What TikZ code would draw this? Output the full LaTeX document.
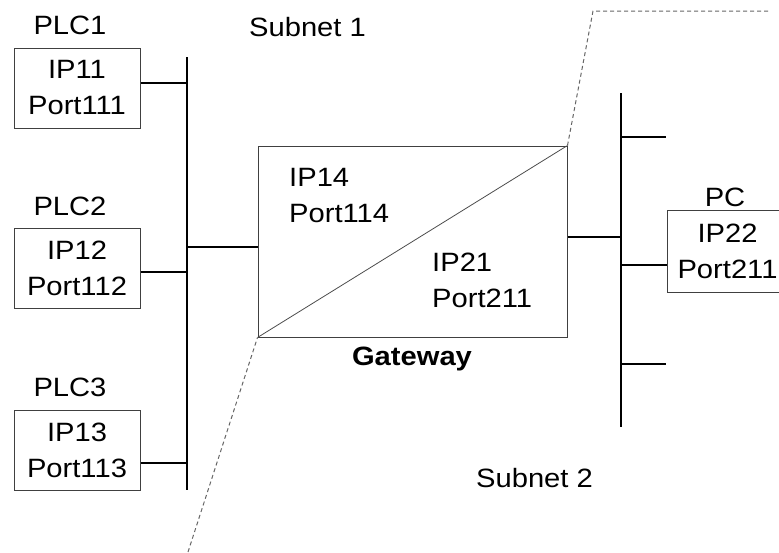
\documentclass[tikz,border=0pt]{standalone}
\usepackage{fontspec}
\setmainfont[FakeStretch=1.1]{Liberation Sans}
\begin{document}
\begin{tikzpicture}[x=1pt,y=-1pt,
  every node/.style={font=\fontsize{26.5}{36}\selectfont, inner sep=0pt},
  devbox/.style={draw=black!75, line width=1pt, minimum width=126pt, minimum height=80pt, align=center},
  txt/.style={align=left},
  bus/.style={line width=2pt},
  stub/.style={line width=2pt},
  thinline/.style={draw=black!75, line width=1pt},
  boundary/.style={draw=black!60, line width=1pt, dash pattern=on 4pt off 3pt}]
\useasboundingbox (0,0) rectangle (779,552);

% labels
\node (l1) at (70,25.5) {PLC1};
\node (l2) at (70,206) {PLC2};
\node (l3) at (70,387.5) {PLC3};
\node (lpc) at (725,197.5) {PC};
\node (sn1) at (307.5,27) {Subnet 1};
\node (sn2) at (534.5,478) {Subnet 2};

% devices
\node[devbox] (plc1) at (77,88) {IP11\\Port111};
\node[devbox] (plc2) at (77,268.5) {IP12\\Port112};
\node[devbox] (plc3) at (77,450) {IP13\\Port113};
\node[devbox, minimum width=121pt, minimum height=82pt] (pc) at (727.5,251) {IP22\\Port211};

% gateway
\node[thinline, minimum width=309pt, minimum height=191pt] (gw) at (412.5,241.5) {};
\draw[draw=black!70, line width=0.8pt] (gw.south west) -- (gw.north east);
\node[txt, anchor=west] (gwa) at (289,196) {IP14\\Port114};
\node[txt, anchor=west] (gwb) at (432,280) {IP21\\Port211};
\node[font=\fontsize{26.5}{36}\selectfont\bfseries] (gwl) at (412,359) {Gateway};

% buses
\coordinate (b1t) at (187,57);
\coordinate (b1b) at (187,490);
\coordinate (b2t) at (621,93);
\coordinate (b2b) at (621,427);
\draw[bus] (b1t) -- (b1b);
\draw[bus] (b2t) -- (b2b);

% stubs subnet 1
\coordinate (s1) at (187,83);
\coordinate (s2) at (187,272);
\coordinate (s3) at (187,463);
\coordinate (sg) at (187,247);
\draw[stub] (s1 -| plc1.east) -- (s1);
\draw[stub] (s2 -| plc2.east) -- (s2);
\draw[stub] (s3 -| plc3.east) -- (s3);
\draw[stub] (sg) -- (sg -| gw.west);

% stubs subnet 2
\coordinate (r1) at (621,137);
\coordinate (rg) at (621,237);
\coordinate (rp) at (621,265);
\coordinate (r4) at (621,364);
\coordinate (r1e) at (666,137);
\coordinate (r4e) at (666,364);
\draw[stub] (r1) -- (r1e);
\draw[stub] (rg -| gw.east) -- (rg);
\draw[stub] (rp) -- (rp -| pc.west);
\draw[stub] (r4) -- (r4e);

% subnet boundary
\coordinate (d0) at (188,552);
\coordinate (d1) at (593,11);
\coordinate (d2) at (768,11);
\draw[boundary] (d0) -- (gw.south west);
\draw[boundary] (gw.north east) -- (d1) -- (d2);
\end{tikzpicture}
\end{document}
